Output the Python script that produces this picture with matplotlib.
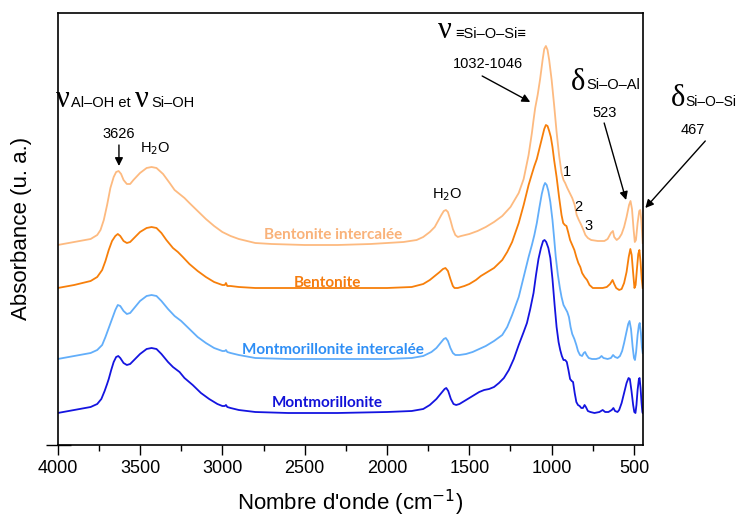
import numpy as np
import matplotlib
matplotlib.use('Agg')
import matplotlib.pyplot as plt
from matplotlib.ticker import MultipleLocator

# Spectra (wavenumber in cm-1, absorbance in arbitrary offset units)
bi_wn = [4000, 3900, 3800, 3760, 3740, 3720, 3700, 3680, 3660, 3645, 3630, 3615, 3600, 3580,
         3560, 3540, 3500, 3460, 3430, 3400, 3360, 3320, 3290, 3260, 3230, 3200, 3150, 3100,
         3050, 3000, 2950, 2900, 2850, 2800, 2700, 2500, 2300, 2100, 1900, 1820, 1780, 1740,
         1710, 1690, 1670, 1655, 1642, 1630, 1615, 1600, 1585, 1570, 1550, 1500, 1450, 1400,
         1350, 1300, 1250, 1200, 1170, 1140, 1120, 1110, 1100, 1085, 1070, 1055, 1045, 1035,
         1025, 1015, 1000, 985, 970, 955, 940, 928, 918, 905, 890, 875, 860, 848, 835, 820,
         807, 795, 780, 760, 720, 680, 660, 640, 628, 620, 605, 590, 575, 560, 545, 530, 521,
         512, 502, 495, 488, 478, 468, 462, 456, 450, 447]
bi_abs = [200, 203, 206, 210, 215, 225, 240, 257, 268, 273, 274, 271, 265, 261,
          261, 265, 272, 277, 278, 277, 271, 262, 255, 251, 247, 242, 234, 226,
          219, 213, 209, 206, 204, 202, 201, 200, 200, 201, 203, 205, 208, 213,
          218, 224, 230, 234, 235, 233, 225, 216, 210, 208, 209, 211, 214, 218,
          223, 229, 238, 252, 266, 290, 312, 325, 337, 350, 366, 385, 396, 399,
          395, 385, 365, 340, 313, 290, 272, 265, 262, 257, 252, 247, 240, 230, 225, 220,
          215, 210, 207, 205, 204, 204, 206, 212, 214, 208, 205, 207, 211, 218, 228, 240, 244,
          236, 215, 203, 205, 222, 234, 235, 226, 210, 202]

b_wn = [4000, 3900, 3800, 3760, 3730, 3710, 3690, 3670, 3650, 3635, 3620, 3600, 3580, 3560,
        3530, 3500, 3460, 3430, 3400, 3370, 3340, 3300, 3270, 3240, 3200, 3150, 3100, 3050,
        3000, 2985, 2978, 2970, 2950, 2900, 2800, 2500, 2200, 2000, 1850, 1780, 1740, 1710,
        1680, 1660, 1645, 1630, 1615, 1600, 1590, 1570, 1530, 1500, 1460, 1430, 1400, 1350,
        1300, 1270, 1240, 1200, 1170, 1140, 1120, 1105, 1090, 1075, 1060, 1045, 1035, 1025,
        1015, 1005, 995, 985, 970, 955, 940, 930, 920, 910, 900, 888, 875, 862, 850, 838,
        826, 815, 800, 785, 770, 750, 720, 690, 665, 645, 630, 620, 608, 590, 575, 560, 545,
        532, 522, 514, 505, 497, 490, 482, 474, 467, 460, 453, 447]
b_abs = [157, 160, 164, 168, 175, 184, 195, 204, 209, 211, 209, 204, 202, 203,
         208, 213, 217, 218, 217, 212, 205, 197, 193, 188, 181, 174, 168, 163,
         160, 160, 162, 159, 159, 158, 157, 157, 157, 157, 158, 161, 165, 169,
         173, 176, 177, 174, 166, 159, 157, 157, 159, 161, 165, 169, 172, 177,
         185, 193, 203, 222, 240, 260, 271, 279, 286, 296, 306, 316, 320, 319,
         314, 308, 298, 285, 268, 248, 230, 222, 220, 219, 213, 205, 200, 195, 188, 182,
         178, 172, 168, 165, 160, 157, 157, 157, 158, 161, 165, 161, 157, 155, 156, 162, 173,
         188, 196, 190, 172, 157, 160, 176, 191, 195, 183, 166, 157]

mi_wn = [4000, 3900, 3800, 3760, 3730, 3710, 3690, 3670, 3650, 3635, 3620, 3600, 3580, 3560,
         3530, 3500, 3460, 3430, 3400, 3370, 3330, 3290, 3250, 3200, 3150, 3100, 3050, 3000,
         2985, 2978, 2970, 2950, 2900, 2800, 2600, 2300, 2000, 1850, 1780, 1730, 1700, 1675,
         1655, 1643, 1630, 1615, 1600, 1585, 1560, 1520, 1480, 1440, 1400, 1350, 1300, 1270,
         1240, 1200, 1170, 1140, 1120, 1105, 1090, 1075, 1060, 1048, 1040, 1030, 1020, 1008,
         995, 985, 975, 962, 950, 940, 928, 918, 905, 895, 885, 875, 862, 850, 840, 828, 815,
         805, 797, 788, 775, 755, 730, 710, 697, 685, 660, 640, 627, 615, 600, 585, 572, 560,
         547, 535, 527, 518, 508, 500, 494, 487, 478, 470, 465, 458, 452, 447]
mi_abs = [86, 89, 92, 95, 100, 108, 117, 126, 135, 140, 139, 134, 131, 132,
          138, 144, 149, 150, 149, 144, 136, 129, 124, 116, 108, 102, 97, 94,
          94, 95, 93, 92, 90, 87, 86, 86, 86, 87, 89, 93, 97, 102,
          106, 107, 104, 97, 92, 90, 90, 91, 93, 96, 99, 104, 110, 118,
          130, 148, 168, 188, 200, 210, 222, 237, 251, 259, 262, 260, 254, 243,
          225, 207, 188, 170, 157, 148, 140, 137, 133, 128, 118, 111, 106, 100, 94, 90, 89,
          92, 93, 90, 87, 86, 86, 87, 89, 87, 86, 87, 90, 88, 87, 89, 94, 102,
          112, 121, 124, 116, 98, 87, 85, 93, 110, 120, 122, 112, 98, 92]

m_wn = [4000, 3900, 3800, 3760, 3735, 3715, 3700, 3690, 3675, 3660, 3645, 3632, 3620, 3600,
        3580, 3560, 3530, 3500, 3460, 3430, 3400, 3370, 3330, 3300, 3260, 3230, 3180, 3130,
        3080, 3030, 3000, 2985, 2978, 2970, 2950, 2900, 2800, 2600, 2300, 2000, 1850, 1780,
        1740, 1700, 1670, 1650, 1640, 1628, 1612, 1596, 1580, 1560, 1530, 1500, 1470, 1440,
        1410, 1380, 1350, 1320, 1290, 1260, 1230, 1200, 1170, 1150, 1130, 1110, 1095, 1080,
        1065, 1052, 1043, 1033, 1020, 1008, 995, 982, 970, 958, 948, 938, 928, 918, 908, 898,
        888, 878, 870, 860, 850, 840, 830, 820, 810, 800, 792, 780, 765, 740, 710, 690, 675,
        655, 635, 625, 615, 600, 590, 575, 560, 545, 533, 525, 515, 505, 498, 491, 485, 478,
        470, 466, 460, 454, 449, 447]
m_abs = [32, 35, 38, 41, 46, 54, 61, 66, 75, 83, 88, 89, 87, 82,
         80, 81, 86, 91, 96, 97, 96, 91, 83, 78, 73, 67, 60, 52,
         46, 41, 39, 39, 40, 38, 37, 35, 33, 32, 32, 33, 34, 36,
         40, 46, 52, 56, 57, 54, 46, 41, 40, 41, 44, 47, 50, 53,
         55, 56, 58, 62, 67, 75, 86, 100, 113, 122, 136, 152, 170, 186,
         197, 204, 205, 203, 197, 187, 166, 140, 118, 103, 95, 89, 85, 85, 83, 75,
         66, 64, 63, 52, 43, 40, 39, 37, 37, 40, 38, 34, 33, 32, 33, 35, 33,
         33, 35, 37, 34, 33, 35, 42, 52, 62, 67, 66, 54, 40, 33, 32, 40, 55,
         66, 67, 57, 42, 33, 32]

series_names = ['Bentonite intercalée', 'Bentonite', 'Montmorillonite intercalée', 'Montmorillonite']
line_colors = ['#FDBA80', '#F77F0A', '#62AEFA', '#1414E0']
text_colors = ['#F9B27A', '#F57C0E', '#2E8EF5', '#1212D8']
label_pos = [(2330, 210), (2360, 162), (2330, 95), (2360, 42)]

W, H = 738, 518
fig = plt.figure(figsize=(W / 100, H / 100), dpi=100)
ax = fig.add_axes([57.7 / W, 1 - 445 / H, (642.7 - 57.7) / W, (445 - 12.7) / H])

spectra = [(bi_wn, bi_abs), (b_wn, b_abs), (mi_wn, mi_abs), (m_wn, m_abs)]
for (wn, ab), c in zip(spectra, line_colors):
    ax.plot(wn, ab, color=c, lw=1.3, solid_joinstyle='round')

for name, (x, y), c in zip(series_names, label_pos, text_colors):
    ax.text(x, y, name, color=c, fontsize=11, fontweight='bold', family=['Lato', 'DejaVu Sans'],
            ha='center', va='center')

ax.set_xlim(4000, 447)
ax.set_ylim(0, 432.3)
ax.xaxis.set_major_locator(MultipleLocator(500))
ax.xaxis.set_minor_locator(MultipleLocator(250))
ax.tick_params(axis='x', which='major', direction='out', length=7, width=1, labelsize=13)
ax.tick_params(axis='x', which='minor', direction='out', length=4, width=1)
ax.set_yticks([0])
ax.set_yticklabels([])
ax.tick_params(axis='y', direction='inout', length=18, width=1)
for lab in ax.get_xticklabels():
    lab.set_family('Liberation Sans')
for s in ax.spines.values():
    s.set_linewidth(1.2)

ax.set_xlabel("Nombre d'onde (cm$^{-1}$)", fontsize=16, family='Liberation Sans', labelpad=8)
ax.set_ylabel('Absorbance (u. a.)', fontsize=16, family='Liberation Sans', labelpad=6)

# peak annotations
small = dict(fontsize=10.5, family='Liberation Sans', ha='center', va='center')
ap = dict(arrowstyle='-|>', color='black', lw=1, mutation_scale=12, shrinkA=0, shrinkB=0)
ax.annotate('', xy=(3628, 279), xytext=(3628, 300), arrowprops=ap, annotation_clip=False)
ax.text(3628, 311, '3626', **small)
ax.text(3409, 296, 'H$_2$O', **small)
ax.text(1635, 250, 'H$_2$O', **small)
ax.text(1386, 381, '1032-1046', **small)
ax.annotate('', xy=(1130, 343), xytext=(1422, 369), arrowprops=ap, annotation_clip=False)
ax.text(681, 332, '523', **small)
ax.annotate('', xy=(548, 245), xytext=(681, 322), arrowprops=ap, annotation_clip=False)
ax.text(140, 315, '467', clip_on=False, **small)
ax.annotate('', xy=(431, 237), xytext=(67, 304), arrowprops=ap, annotation_clip=False)
ax.text(906, 273, '1', **small)
ax.text(839, 238, '2', **small)
ax.text(779, 219, '3', **small)


def px(x, y):
    return x / W, 1 - y / H


greek = dict(fontsize=22, family='Liberation Serif', ha='left', va='baseline')
sub = dict(fontsize=10.5, family='Liberation Sans', ha='left', va='baseline')
fig.text(*px(56, 107), 'ν', **greek)
fig.text(*px(71, 107), 'Al–OH et', **sub)
fig.text(*px(135, 107), 'ν', **greek)
fig.text(*px(151, 107), 'Si–OH', **sub)
fig.text(*px(438, 38), 'ν', **greek)
fig.text(*px(455, 38), '≡Si–O–Si≡', **sub)
fig.text(*px(571, 90), 'δ', **greek)
fig.text(*px(586, 89), 'Si–O–Al', **sub)
fig.text(*px(671, 106), 'δ', **greek)
fig.text(*px(685, 106), 'Si–O–Si', fontsize=10, family='Liberation Sans', ha='left', va='baseline')

fig.savefig('out.png', dpi=100)
